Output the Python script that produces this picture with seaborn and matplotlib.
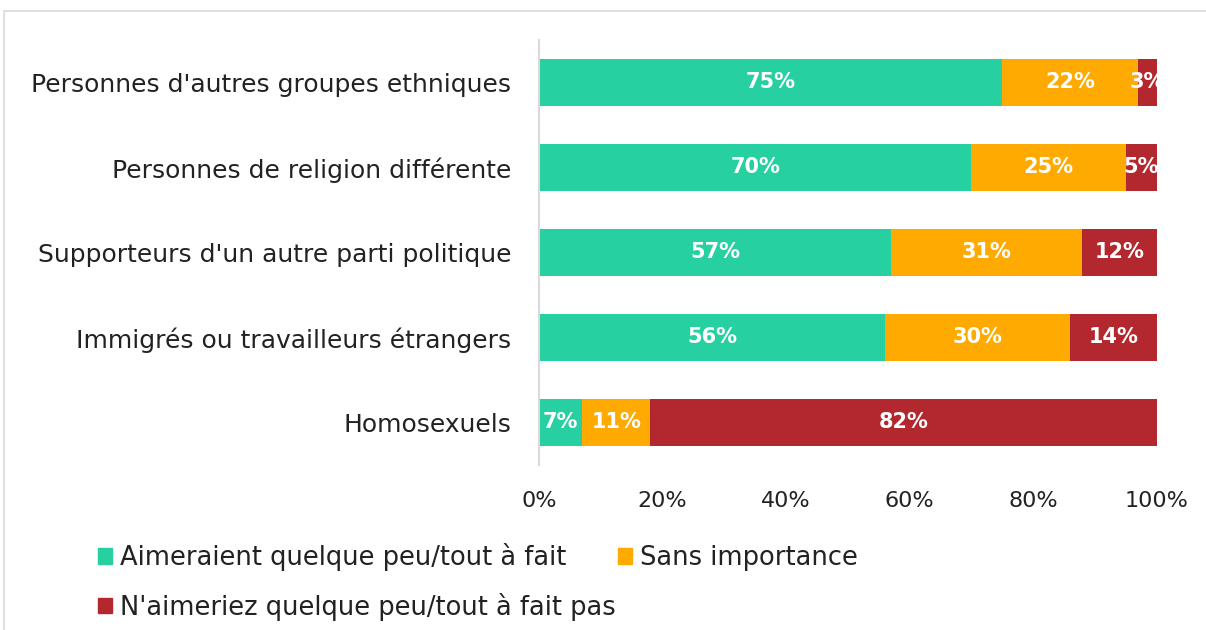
import pandas as pd
import numpy as np
import matplotlib
matplotlib.use("Agg")
import matplotlib.pyplot as plt
import matplotlib.patches as mpatches
import seaborn as sns

# === DONNÉES ===
categories = [
    "Personnes d'autres groupes ethniques",
    "Personnes de religion différente",
    "Supporteurs d'un autre parti politique",
    "Immigrés ou travailleurs étrangers",
    "Homosexuels",
]
aimeraient = [75, 70, 57, 56, 7]
sans_importance = [22, 25, 31, 30, 11]
aimeriez_pas = [3, 5, 12, 14, 82]

series_names = [
    "Aimeraient quelque peu/tout à fait",
    "Sans importance",
    "N'aimeriez quelque peu/tout à fait pas",
]
colors = ["#26D0A0", "#FFAA00", "#B3282E"]

df = pd.DataFrame({
    "Catégorie": categories,
    series_names[0]: aimeraient,
    series_names[1]: sans_importance,
    series_names[2]: aimeriez_pas,
})
cum = df[series_names].cumsum(axis=1)

# === STYLE ===
sns.set_theme(style="white")
plt.rcParams["font.family"] = ["DejaVu Sans"]

fig = plt.figure(figsize=(12.06, 6.3), dpi=100)
ax = fig.add_axes([0.447, 0.262, 0.512, 0.675])

# barres empilées : on dessine les cumuls du plus grand au plus petit
for name, col in reversed(list(zip(series_names, colors))):
    sns.barplot(x=cum[name], y=df["Catégorie"], orient="h", color=col,
                width=0.55, ax=ax, saturation=1, linewidth=0)

# étiquettes des segments
for i in range(len(categories)):
    left = 0
    for name in series_names:
        v = df.loc[i, name]
        ax.text(left + v / 2, i, f"{v}%", ha="center", va="center",
                color="white", fontsize=15, fontweight="bold")
        left += v

ax.set_xlim(0, 100)
ax.set_ylim(4.5, -0.5)
ax.set_xticks(range(0, 101, 20))
ax.set_xticklabels([f"{t}%" for t in range(0, 101, 20)])
ax.set_xlabel("")
ax.set_ylabel("")
ax.tick_params(axis="y", labelsize=18, length=0, pad=20, colors="#222222")
ax.tick_params(axis="x", labelsize=16, length=0, pad=19, colors="#222222")
for s in ["top", "right", "bottom"]:
    ax.spines[s].set_visible(False)
ax.spines["left"].set_color("#D9D9D9")
ax.spines["left"].set_linewidth(1.5)

# légende
handles = [mpatches.Patch(color=c, label=n) for n, c in zip(series_names, colors)]
order = [0, 2, 1]
fig.legend([handles[k] for k in order], [series_names[k] for k in order],
           ncol=2, loc="upper left", bbox_to_anchor=(0.062, 0.175),
           frameon=False, fontsize=18.5, handlelength=0.55, handleheight=0.55,
           handletextpad=0.3, columnspacing=0.1, labelspacing=0.85,
           labelcolor="#222222")

# cadre
fig.patches.append(mpatches.Rectangle((0.0033, -0.1), 1.2, 1.0825,
                                      transform=fig.transFigure, fill=False,
                                      edgecolor="#D9D9D9", linewidth=1.2))

fig.savefig("out.png", dpi=100)
